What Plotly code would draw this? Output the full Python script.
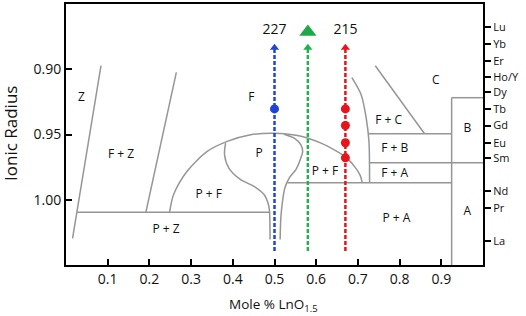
import plotly.graph_objects as go

# ---------------- data ----------------
x_ticks = [0.1, 0.2, 0.3, 0.4, 0.5, 0.6, 0.7, 0.8, 0.9]
y_ticks = [0.90, 0.95, 1.00]
ln_labels = ["Lu", "Yb", "Er", "Ho/Y", "Dy", "Tb", "Gd", "Eu", "Sm", "Nd", "Pr", "La"]
ln_radii = [0.8676, 0.8808, 0.8935, 0.9063, 0.9172, 0.9304, 0.9431, 0.9563, 0.9679, 0.9935, 1.0063, 1.0317]

# phase boundaries (x, y)
z_line_x = [0.0839, 0.0157]
z_line_y = [0.8973, 1.0296]
fz_line_x = [0.2646, 0.1916]
fz_line_y = [0.9024, 1.0095]
bottom_h_x = [0.0267, 0.4870]
bottom_h_y = [1.0095, 1.0095]
p_left_x = [0.3827, 0.3802, 0.3906, 0.4188, 0.4508, 0.4749, 0.4855, 0.4880, 0.4894]
p_left_y = [0.9566, 0.9655, 0.9757, 0.9846, 0.9897, 0.9960, 1.0037, 1.0088, 1.0304]
p_right_x = [0.5231, 0.5472, 0.5634, 0.5675, 0.5617, 0.5513, 0.5352, 0.5248, 0.5193, 0.5152, 0.5135]
p_right_y = [0.9498, 0.9528, 0.9579, 0.9630, 0.9693, 0.9769, 0.9834, 0.9910, 1.0011, 1.0139, 1.0304]
dome_x = [0.2484, 0.2581, 0.2904, 0.3386, 0.3867, 0.4429, 0.4990, 0.5554, 0.6116, 0.6477, 0.6742, 0.6935, 0.7055, 0.7104]
dome_y = [1.0095, 0.9960, 0.9782, 0.9630, 0.9553, 0.9502, 0.9490, 0.9508, 0.9566, 0.9626, 0.9683, 0.9752, 0.9813, 0.9870]
pf_h_x = [0.5308, 0.9236]
pf_h_y = [0.9870, 0.9870]
f_bound_x = [0.6855, 0.7080, 0.7200, 0.7265, 0.7280]
f_bound_y = [0.9065, 0.9197, 0.9376, 0.9553, 0.9872]
fc_h_x = [0.7260, 0.9248]
fc_h_y = [0.9495, 0.9495]
fb_h_x = [0.7280, 1.0]
fb_h_y = [0.9716, 0.9716]
b_top_x = [0.9248, 1.0]
b_top_y = [0.9218, 0.9218]
b_vert_x = [0.9248, 0.9248]
b_vert_y = [0.9218, 1.05]
c_diag_x = [0.7417, 0.8590]
c_diag_y = [0.8973, 0.9490]

phase_text = ["Z", "F + Z", "F", "P", "P + F", "P + Z", "P + F", "F + C", "C", "B", "F + B", "F + A", "P + A", "A"]
phase_x = [0.0373, 0.1320, 0.4446, 0.4629, 0.3424, 0.2398, 0.6212, 0.7737, 0.8870, 0.9625, 0.7882, 0.7882, 0.7923, 0.9625]
phase_y = [0.9218, 0.9655, 0.9218, 0.9647, 0.9960, 1.0235, 0.9790, 0.9393, 0.9090, 0.9456, 0.9609, 0.9800, 1.0151, 1.0095]

# compositions studied
comp_x = [0.50, 0.58, 0.67]
comp_colors = ["#1f45d8", "#22b14c", "#e8141a"]
line_bottom = 1.0393
arrow_head_y = 0.8836
blue_x = [0.50]
blue_y = [0.9304]
red_x = [0.67, 0.67, 0.67, 0.67]
red_y = [0.9304, 0.9431, 0.9563, 0.9679]
tri_x = [0.58]
tri_y = [0.8714]
top_labels = ["227", "215"]
top_label_x = [0.50, 0.67]
top_label_y = [0.8706, 0.8706]

FONT = "Open Sans"
GRAY = "#969696"

fig = go.Figure()

boundaries = [
    (z_line_x, z_line_y, "linear"), (fz_line_x, fz_line_y, "linear"),
    (bottom_h_x, bottom_h_y, "linear"), (p_left_x, p_left_y, "spline"),
    (p_right_x, p_right_y, "spline"), (dome_x, dome_y, "spline"),
    (pf_h_x, pf_h_y, "linear"), (f_bound_x, f_bound_y, "spline"),
    (fc_h_x, fc_h_y, "linear"), (fb_h_x, fb_h_y, "linear"),
    (b_top_x, b_top_y, "linear"), (b_vert_x, b_vert_y, "linear"),
    (c_diag_x, c_diag_y, "linear"),
]
for bx, by, shp in boundaries:
    fig.add_trace(go.Scatter(x=bx, y=by, mode="lines",
                             line=dict(color=GRAY, width=1.5, shape=shp, smoothing=0.8),
                             hoverinfo="skip", showlegend=False))

# dashed composition lines with arrowheads
for cx, col in zip(comp_x, comp_colors):
    fig.add_trace(go.Scatter(x=[cx, cx], y=[line_bottom, arrow_head_y], mode="lines",
                             line=dict(color=col, width=2.5, dash="4px,2px"),
                             showlegend=False, hoverinfo="skip"))
    fig.add_trace(go.Scatter(x=[cx], y=[arrow_head_y], mode="markers",
                             marker=dict(color=col, size=8, symbol="triangle-up"),
                             showlegend=False, hoverinfo="skip"))

fig.add_trace(go.Scatter(x=blue_x, y=blue_y, mode="markers",
                         marker=dict(color=comp_colors[0], size=9), showlegend=False))
fig.add_trace(go.Scatter(x=red_x, y=red_y, mode="markers",
                         marker=dict(color=comp_colors[2], size=9), showlegend=False))
fig.add_trace(go.Scatter(x=tri_x, y=tri_y, mode="markers",
                         marker=dict(color="#1fa84a", size=15, symbol="triangle-up"),
                         showlegend=False))

# phase labels
fig.add_trace(go.Scatter(x=phase_x, y=phase_y, mode="text", text=phase_text,
                         textfont=dict(family=FONT, size=12, color="#111"),
                         showlegend=False, hoverinfo="skip"))
fig.add_trace(go.Scatter(x=top_label_x, y=top_label_y, mode="text", text=top_labels,
                         textfont=dict(family=FONT, size=14, color="#111"),
                         showlegend=False, hoverinfo="skip"))

# invisible trace for right axis
fig.add_trace(go.Scatter(x=[0.5], y=[0.95], yaxis="y2", mode="markers",
                         marker=dict(opacity=0), showlegend=False, hoverinfo="skip"))

pw = 526 - 66 - 43
ph = 316 - 2 - 51

fig.update_layout(
    width=526, height=316,
    margin=dict(l=66, r=43, t=2, b=51),
    plot_bgcolor="white", paper_bgcolor="white",
    font=dict(family=FONT, color="#111"),
    xaxis=dict(range=[0, 1.0], tickvals=x_ticks, ticktext=[str(v) for v in x_ticks],
               ticks="inside", ticklen=6, tickwidth=1.5, tickcolor="black",
               showline=True, linecolor="black", linewidth=2, mirror=True,
               showgrid=False, zeroline=False, tickfont=dict(size=14, family=FONT)),
    yaxis=dict(range=[1.05, 0.85], tickvals=y_ticks, ticktext=["0.90", "0.95", "1.00"],
               ticks="inside", ticklen=6, tickwidth=1.5, tickcolor="black",
               showline=True, linecolor="black", linewidth=2, mirror=True,
               showgrid=False, zeroline=False, tickfont=dict(size=14, family=FONT)),
    yaxis2=dict(range=[1.05, 0.85], overlaying="y", side="right",
                tickvals=ln_radii, ticktext=ln_labels,
                ticks="outside", ticklen=6, tickwidth=1.5, tickcolor="black",
                showline=True, linecolor="black", linewidth=2,
                showgrid=False, zeroline=False, tickfont=dict(size=11, family=FONT)),
)
fig.add_annotation(text="Ionic Radius", textangle=-90,
                   x=(10 - 66) / pw, y=(316 - 51 - 133) / ph, xref="paper", yref="paper",
                   xanchor="center", yanchor="middle",
                   showarrow=False, font=dict(size=17, family=FONT))
fig.add_annotation(text="Mole % LnO<sub>1.5</sub>",
                   x=(273 - 66) / pw, y=(316 - 51 - 305) / ph, xref="paper", yref="paper",
                   xanchor="center", yanchor="middle",
                   showarrow=False, font=dict(size=13.5, family=FONT))

fig.write_html("out.html", config={"displayModeBar": False},
               post_script="document.body.style.margin='0';document.body.style.padding='0';")
